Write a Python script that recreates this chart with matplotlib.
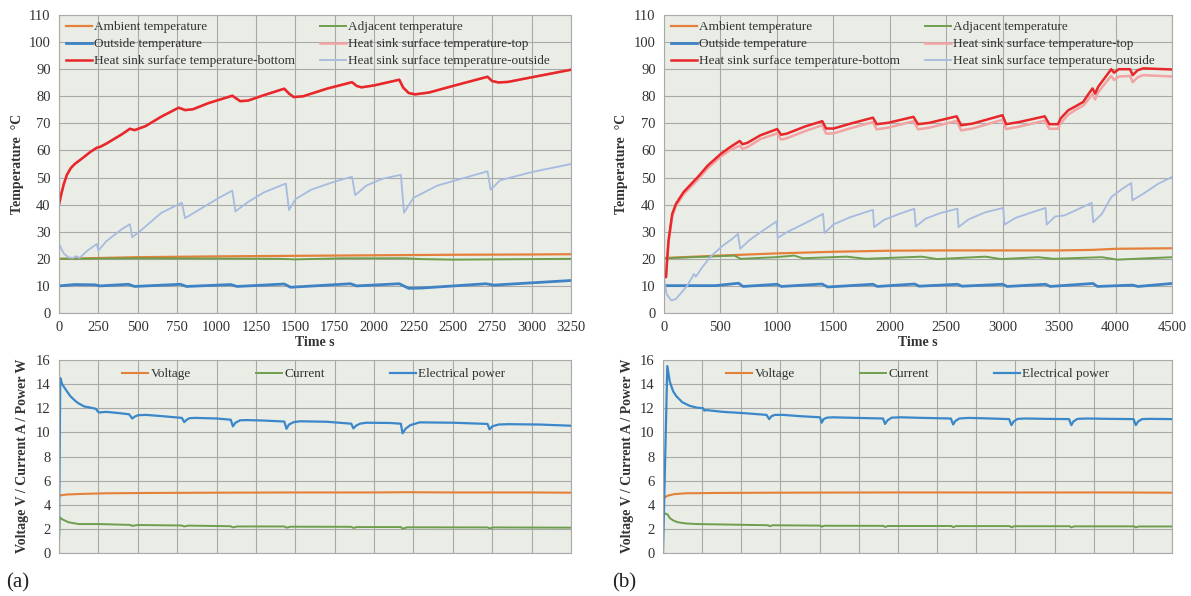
import numpy as np
import matplotlib
matplotlib.use("Agg")
from matplotlib import pyplot as plt

# Heat sink test, case (a) : temperatures (s, degC)
t_red_a = [0, 15, 30, 50, 75, 100, 150, 200, 240, 260, 300, 400, 450, 480, 550, 650, 760, 800, 850, 950,
           1100, 1150, 1200, 1300, 1430, 1460, 1490, 1550, 1700, 1860, 1890, 1920, 2000, 2160, 2185, 2220,
           2260, 2350, 2500, 2720, 2750, 2790, 2850, 3000, 3250]
hs_bottom_a = [40, 44, 47.5, 51, 53.5, 55, 57.2, 59.5, 61, 61.3, 62.5, 66, 68, 67.5, 69, 72.5, 75.8, 74.9, 75.2, 77.5,
               80.2, 78.2, 78.4, 80.4, 82.8, 81, 79.7, 80, 82.8, 85.2, 83.8, 83.3, 84, 86.1, 83.2, 81.2,
               80.7, 81.4, 83.8, 87.2, 85.6, 85.1, 85.3, 87, 89.8]
hs_top_a = hs_bottom_a  # courbe cachee sous la courbe "bottom"

t_hso_a = [0, 30, 60, 90, 110, 130, 180, 240, 250, 300, 400, 450, 465, 520, 650, 780, 800, 900, 1000, 1100,
           1120, 1200, 1300, 1440, 1460, 1500, 1600, 1750, 1860, 1880, 1950, 2050, 2170, 2190, 2250, 2400,
           2550, 2720, 2740, 2800, 3000, 3250]
hs_outside_a = [25.5, 22, 20.5, 20.3, 21, 20.3, 23, 25.5, 23, 26.5, 31, 32.8, 28, 30.5, 37, 40.7, 35, 38.5, 42, 45.2,
                37.5, 41, 44.5, 47.8, 38, 42, 45.5, 48.5, 50.3, 43.5, 47, 49.5, 51, 37, 42.5, 47,
                49.5, 52.3, 45.5, 49, 52, 55]

t_amb_a = [0, 250, 500, 1000, 1500, 2000, 2500, 3000, 3250]
ambient_a = [20, 20.3, 20.6, 20.9, 21.1, 21.3, 21.5, 21.6, 21.7]
t_adj_a = [0, 500, 1000, 1400, 1500, 1800, 2200, 2300, 2500, 3000, 3250]
adjacent_a = [20, 20.2, 20.1, 20, 19.8, 20.2, 20.2, 19.9, 19.7, 19.9, 20]
t_out_a = [0, 100, 230, 260, 440, 480, 770, 810, 1090, 1130, 1430, 1470, 1850, 1890, 2160, 2220, 2300, 2710, 2760, 3250]
outside_a = [10, 10.5, 10.4, 10, 10.6, 9.8, 10.6, 9.8, 10.5, 9.8, 10.7, 9.5, 10.8, 10, 10.8, 9.1, 9.2, 10.8, 10.3, 12]

# case (a) : electrical values
t_pow_a = [0, 8, 20, 40, 72, 104, 125, 160, 200, 235, 245, 255, 300, 380, 445, 465, 480, 500, 550, 650,
           780, 795, 810, 830, 870, 1000, 1090, 1104, 1120, 1150, 1190, 1300, 1430, 1444, 1460, 1490, 1530,
           1700, 1855, 1869, 1885, 1910, 1950, 2100, 2170, 2181, 2200, 2230, 2290, 2500, 2720, 2733, 2750,
           2790, 2850, 3050, 3250]
power_a = [1.2, 14.5, 14.0, 13.6, 13.0, 12.6, 12.4, 12.15, 12.05, 11.95, 11.75, 11.65, 11.7, 11.6, 11.5, 11.15, 11.3, 11.42, 11.45, 11.35,
           11.2, 10.85, 11.05, 11.18, 11.2, 11.15, 11.05, 10.5, 10.8, 11.0, 11.02, 10.98, 10.9, 10.3, 10.65, 10.85, 10.92,
           10.88, 10.72, 10.33, 10.55, 10.72, 10.8, 10.78, 10.72, 9.92, 10.3, 10.6, 10.83, 10.8, 10.7, 10.25, 10.5,
           10.65, 10.68, 10.65, 10.55]
t_volt_a = [0, 10, 50, 150, 300, 600, 1000, 1500, 2000, 2200, 2500, 3000, 3250]
voltage_a = [4.7, 4.78, 4.85, 4.9, 4.95, 4.98, 5.0, 5.02, 5.02, 5.04, 5.02, 5.02, 5.0]
t_cur_a = [0, 5, 20, 60, 125, 250, 450, 465, 500, 780, 795, 820, 1090, 1104, 1130, 1430, 1444, 1470,
           1855, 1869, 1890, 2170, 2181, 2210, 2720, 2733, 2760, 3250]
current_a = [1.2, 2.95, 2.8, 2.55, 2.4, 2.4, 2.33, 2.25, 2.32, 2.28, 2.2, 2.27, 2.22, 2.12, 2.2, 2.2, 2.1, 2.18,
             2.17, 2.08, 2.15, 2.15, 2.02, 2.13, 2.12, 2.05, 2.12, 2.1]

# case (b) : temperatures
t_red_b = [0, 7, 18, 25, 40, 73, 106, 173, 256, 300, 389, 505, 588, 671, 695, 738, 854, 1003, 1037, 1087,
           1253, 1402, 1436, 1502, 1652, 1851, 1884, 1984, 2210, 2250, 2350, 2592, 2632, 2732, 2998, 3031,
           3147, 3373, 3413, 3490, 3513, 3580, 3646, 3713, 3763, 3796, 3819, 3846, 3912, 3962, 3986, 4029,
           4128, 4152, 4195, 4245, 4500]
hs_bottom_b = [13, 13.2, 13.3, 18, 26.8, 36.6, 40.3, 44.6, 48.3, 50.2, 54.5, 58.8, 61.3, 63.5, 62.3, 62.8, 65.6, 67.9, 65.8, 66.2,
               68.9, 70.8, 68.1, 68.1, 69.9, 72.1, 69.7, 70.2, 72.4, 69.7, 70.2, 72.6, 69.3, 69.9, 73, 69.7,
               70.5, 72.6, 69.7, 69.7, 71.8, 74.8, 76.3, 77.9, 81, 82.9, 81, 83.5, 87.2, 90, 88.7, 90,
               90, 87.8, 89.6, 90.3, 89.9]
hs_top_b = [13, 13.2, 13.3, 17.5, 26, 35.8, 39.5, 43.8, 47.3, 49.2, 53.5, 57.8, 60.2, 61.8, 60.6, 61.2, 64.2, 66.3, 64.0, 64.5,
            67.2, 69.3, 66.2, 66.3, 68.2, 70.5, 67.8, 68.4, 70.8, 67.8, 68.4, 70.9, 67.4, 68.1, 71.3, 67.9,
            68.8, 71.0, 68.0, 68.0, 70.0, 73.2, 75.0, 76.5, 79.0, 80.8, 78.8, 81.5, 85.0, 87.5, 86.0, 87.3,
            87.5, 85.2, 87.0, 87.8, 87.3]
t_hso_b = [0, 23, 66, 106, 156, 206, 266, 282, 339, 422, 522, 605, 655, 675, 754, 854, 997, 1007, 1087, 1253,
           1409, 1422, 1502, 1652, 1851, 1861, 1951, 2084, 2217, 2230, 2316, 2449, 2599, 2609, 2699, 2848,
           3005, 3015, 3114, 3247, 3380, 3390, 3463, 3546, 3646, 3789, 3802, 3879, 3962, 4062, 4139, 4149,
           4245, 4378, 4500]
hs_outside_b = [12.6, 7.0, 4.6, 5.2, 7.6, 10.1, 14.4, 13.4, 16.9, 21.2, 24.9, 27.4, 29.2, 23.7, 26.8, 29.8, 33.8, 27.7, 29.8, 33.2,
                36.6, 29.5, 32.7, 35.4, 38.1, 31.7, 34.4, 36.6, 38.5, 31.9, 34.8, 36.9, 38.5, 31.7, 34.6, 37.2,
                38.8, 32.6, 35.1, 37.0, 38.8, 32.6, 35.6, 36.0, 37.9, 40.7, 33.5, 36.6, 42.8, 45.9, 48.0, 41.6,
                44.0, 47.7, 50.2]
t_amb_b = [0, 500, 1000, 1500, 2000, 2500, 3000, 3500, 3800, 4000, 4500]
ambient_b = [20.3, 21.2, 22.0, 22.6, 23.0, 23.1, 23.1, 23.1, 23.3, 23.7, 23.9]
t_adj_b = [0, 505, 621, 680, 987, 1153, 1230, 1618, 1790, 2283, 2420, 2848, 2985, 3313, 3450, 3879, 4015, 4500]
adjacent_b = [20.2, 21.0, 21.2, 20.0, 20.6, 21.2, 20.2, 20.8, 20.0, 20.8, 19.9, 20.8, 19.9, 20.6, 20.0, 20.6, 19.7, 20.6]
t_out_b = [0, 455, 660, 700, 1000, 1040, 1400, 1450, 1850, 1890, 2220, 2260, 2600, 2640, 3000, 3040,
           3380, 3420, 3800, 3840, 4150, 4200, 4500]
outside_b = [10.1, 10.1, 11, 9.8, 10.6, 9.8, 10.7, 9.6, 10.6, 9.8, 10.7, 9.9, 10.6, 9.9, 10.6, 9.8,
             10.6, 9.8, 10.9, 9.8, 10.3, 9.8, 10.9]

# case (b) : electrical values
t_pow_b = [0, 38, 60, 90, 118, 170, 236, 300, 354, 366, 380, 450, 531, 708, 915, 939, 960, 990, 1063, 1200,
           1388, 1403, 1420, 1450, 1500, 1713, 1945, 1963, 1985, 2022, 2100, 2300, 2545, 2565, 2585, 2620,
           2700, 2900, 3060, 3080, 3100, 3135, 3200, 3400, 3590, 3610, 3630, 3665, 3750, 3950, 4160, 4180,
           4200, 4235, 4300, 4500]
power_b = [0, 15.5, 14.2, 13.4, 13.0, 12.5, 12.2, 12.05, 12.0, 11.8, 11.85, 11.78, 11.7, 11.6, 11.45, 11.1, 11.35, 11.45, 11.45, 11.35,
           11.25, 10.8, 11.1, 11.22, 11.25, 11.2, 11.15, 10.7, 11.0, 11.22, 11.25, 11.2, 11.15, 10.65, 10.95, 11.15,
           11.2, 11.15, 11.1, 10.6, 10.9, 11.12, 11.15, 11.12, 11.1, 10.6, 10.92, 11.12, 11.15, 11.12, 11.1, 10.6,
           10.9, 11.1, 11.12, 11.1]
t_volt_b = [0, 15, 40, 100, 200, 500, 1000, 2000, 3000, 4000, 4500]
voltage_b = [4.5, 4.6, 4.75, 4.88, 4.95, 4.98, 5.0, 5.02, 5.02, 5.02, 5.0]
t_cur_b = [10, 40, 60, 90, 130, 200, 300, 500, 930, 945, 970, 1390, 1403, 1425, 1950, 1963, 1990,
           2550, 2565, 2590, 3065, 3080, 3105, 3595, 3610, 3635, 4165, 4180, 4205, 4500]
current_b = [3.3, 3.2, 2.9, 2.7, 2.55, 2.45, 2.4, 2.37, 2.3, 2.22, 2.3, 2.27, 2.18, 2.26, 2.25, 2.16, 2.24,
             2.24, 2.14, 2.23, 2.23, 2.13, 2.22, 2.22, 2.12, 2.21, 2.21, 2.12, 2.2, 2.2]

temp_labels = ["Ambient temperature", "Outside temperature", "Heat sink surface temperature-bottom",
               "Adjacent temperature", "Heat sink surface temperature-top", "Heat sink surface temperature-outside"]
elec_labels = ["Voltage", "Current", "Electrical power"]

# couleurs
c_amb = '#E5803A'
c_adj = '#6E9E4C'
c_out = '#3F83C4'
c_red = '#E8272B'
c_pink = '#F2A3A3'
c_lblue = '#A7BADF'
c_pow = '#3A87C9'
bg = '#E9EDE6'
grid_c = '#A9A9A9'
txt_c = '#333333'

plt.rcParams['font.family'] = ['Liberation Serif', 'DejaVu Serif']
plt.rcParams['font.size'] = 9.5

W, H = 1191, 596
fig = plt.figure(figsize=(W / 100, H / 100), dpi=100)


def box(x0, x1, y0, y1):
    # pixels (origine en haut a gauche) -> fraction de figure
    return [x0 / W, 1 - y1 / H, (x1 - x0) / W, (y1 - y0) / H]


def fpt(x, y):
    return (x / W, 1 - y / H)


def style(ax):
    ax.set_facecolor(bg)
    ax.grid(True, color=grid_c, lw=0.8)
    ax.set_axisbelow(True)
    for s in ax.spines.values():
        s.set_color(grid_c)
        s.set_linewidth(0.8)
    ax.tick_params(length=0, colors=txt_c, labelsize=10.5, pad=6)


def put_legend(handles, labels, x, y, spacing=0.36):
    lg = fig.legend(handles, labels, loc='upper left', bbox_to_anchor=fpt(x, y),
                    frameon=False, borderpad=0, borderaxespad=0, handlelength=2.0,
                    handletextpad=0.15, labelspacing=spacing, fontsize=9.5)
    for t in lg.get_texts():
        t.set_color(txt_c)
    return lg


def top_panel(x0, x1, xmax, xstep, data):
    ax = fig.add_axes(box(x0, x1, 15, 313))
    style(ax)
    (ta, amb), (tout, out), (tr, bot), (tadj, adj), (tt, top), (th, hso) = data
    h1, = ax.plot(ta, amb, color=c_amb, lw=1.6)
    h4, = ax.plot(tadj, adj, color=c_adj, lw=1.4)
    h2, = ax.plot(tout, out, color=c_out, lw=2.0)
    h5, = ax.plot(tt, top, color=c_pink, lw=1.8)
    h3, = ax.plot(tr, bot, color=c_red, lw=1.8)
    h6, = ax.plot(th, hso, color=c_lblue, lw=1.3)
    ax.set_xlim(0, xmax)
    ax.set_ylim(0, 110)
    ax.set_xticks(np.arange(0, xmax + 1, xstep))
    ax.set_yticks(np.arange(0, 111, 10))
    ax.set_xlabel('Time s', fontweight='bold', fontsize=10, labelpad=1, color=txt_c)
    hs = [h1, h2, h3, h4, h5, h6]
    put_legend(hs[:3], temp_labels[:3], x0 + 7, 21)
    put_legend(hs[3:], temp_labels[3:], x0 + 261, 21)
    return ax


def bottom_panel(x0, x1, xmax, data):
    ax = fig.add_axes(box(x0, x1, 360, 553))
    style(ax)
    (tv, v), (tc, c), (tp, p) = data
    hv, = ax.plot(tv, v, color=c_amb, lw=1.5)
    hc, = ax.plot(tc, c, color=c_adj, lw=1.4)
    hp, = ax.plot(tp, p, color=c_pow, lw=1.6)
    ax.set_xlim(0, xmax)
    ax.set_ylim(0, 16)
    ax.set_xticks(np.linspace(0, xmax, 14))
    ax.set_xticklabels([])
    ax.set_yticks(np.arange(0, 17, 2))
    for h, lab, dx in zip([hv, hc, hp], elec_labels, [63, 197, 331]):
        put_legend([h], [lab], x0 + dx, 368)
    return ax


top_panel(59, 571, 3250, 250,
          [(t_amb_a, ambient_a), (t_out_a, outside_a), (t_red_a, hs_bottom_a),
           (t_adj_a, adjacent_a), (t_red_a, hs_top_a), (t_hso_a, hs_outside_a)])
top_panel(664, 1172, 4500, 500,
          [(t_amb_b, ambient_b), (t_out_b, outside_b), (t_red_b, hs_bottom_b),
           (t_adj_b, adjacent_b), (t_red_b, hs_top_b), (t_hso_b, hs_outside_b)])
bottom_panel(59, 571, 3250, [(t_volt_a, voltage_a), (t_cur_a, current_a), (t_pow_a, power_a)])
bottom_panel(663, 1172, 4500, [(t_volt_b, voltage_b), (t_cur_b, current_b), (t_pow_b, power_b)])

# titres des axes y et etiquettes (a) / (b)
for x in (18, 621):
    fig.text(*fpt(x, 164), 'Temperature  \u00b0C', rotation=90, ha='center', va='center',
             fontweight='bold', fontsize=10, color=txt_c)
for x in (23, 627):
    fig.text(*fpt(x, 456), 'Voltage V / Current A / Power W', rotation=90, ha='center', va='center',
             fontweight='bold', fontsize=10, color=txt_c)
fig.text(*fpt(6, 583), '(a)', ha='left', va='center', fontsize=15, color='#222222')
fig.text(*fpt(612, 583), '(b)', ha='left', va='center', fontsize=15, color='#222222')

fig.savefig('out.png', dpi=100)
